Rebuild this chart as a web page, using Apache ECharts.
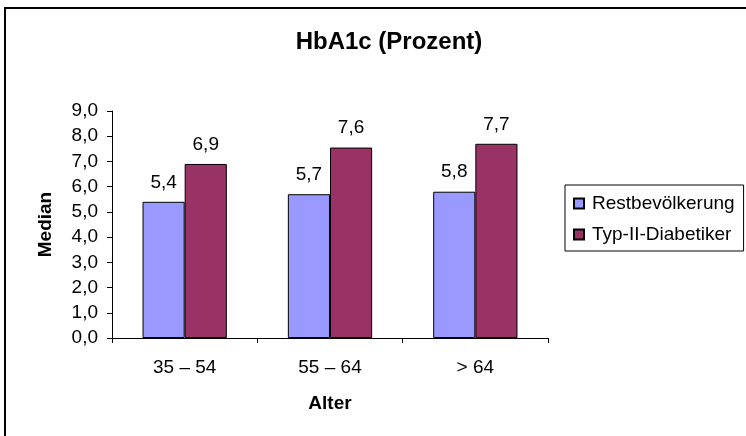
<!DOCTYPE html>
<html>
<head>
<meta charset="utf-8">
<script src="https://cdn.jsdelivr.net/npm/echarts@6/dist/echarts.min.js"></script>
<style>html,body{margin:0;padding:0;background:#fff}#c{width:746px;height:436px}</style>
</head>
<body>
<div id="c"></div>
<script>
var categories = ['35 – 54', '55 – 64', '> 64'];
var restValues = [5.4, 5.7, 5.8];
var diabValues = [6.9, 7.55, 7.7];
var seriesNames = ['Restbevölkerung', 'Typ-II-Diabetiker'];
var yMin = 0, yMax = 9, yStep = 1;

var FONT = 'Liberation Sans, Arial, sans-serif';
function fmt(v) { return (Math.round(v * 10 + 1e-6) / 10).toFixed(1).replace('.', ','); }

var chart = echarts.init(document.getElementById('c'));
var labelCfg = {
  show: true, position: 'top', distance: 10, color: '#000',
  fontFamily: FONT, fontSize: 19,
  formatter: function (p) { return fmt(p.value); }
};
chart.setOption({
  animation: false,
  backgroundColor: '#fff',
  title: {
    text: 'HbA1c (Prozent)', left: 384, top: 25, textAlign: 'center',
    textStyle: { fontFamily: FONT, fontSize: 24, fontWeight: 'bold', color: '#000' }
  },
  graphic: [{
    type: 'rect', shape: { x: 5, y: 8, width: 800, height: 500 },
    style: { fill: 'none', stroke: '#000', lineWidth: 2 }, silent: true
  }],
  legend: {
    orient: 'vertical', left: 565, top: 185,
    padding: [9, 9, 7, 8], itemGap: 12, itemWidth: 10, itemHeight: 10,
    icon: 'rect', borderColor: '#000', borderWidth: 1,
    textStyle: { fontFamily: FONT, fontSize: 19, color: '#000', padding: [0, 0, 0, 3] },
    data: seriesNames
  },
  grid: { left: 112, right: 198, top: 111, bottom: 98 },
  xAxis: {
    type: 'category', data: categories,
    name: 'Alter', nameLocation: 'middle', nameGap: 56,
    nameTextStyle: { fontFamily: FONT, fontSize: 19, fontWeight: 'bold', color: '#000' },
    axisLine: { lineStyle: { color: '#000', width: 1 } },
    axisTick: { show: true, alignWithLabel: false, length: 5, lineStyle: { color: '#000' } },
    axisLabel: { margin: 20, fontFamily: FONT, fontSize: 19, color: '#000' }
  },
  yAxis: {
    type: 'value', min: yMin, max: yMax, interval: yStep,
    name: 'Median', nameLocation: 'middle', nameGap: 57, nameRotate: 90,
    nameTextStyle: { fontFamily: FONT, fontSize: 19, fontWeight: 'bold', color: '#000' },
    axisLine: { show: true, lineStyle: { color: '#000', width: 1 } },
    axisTick: { show: true, length: 5, lineStyle: { color: '#000' } },
    splitLine: { show: false },
    axisLabel: { margin: 14, fontFamily: FONT, fontSize: 19, color: '#000',
      formatter: function (v) { return v.toFixed(1).replace('.', ','); } }
  },
  series: [{
    name: seriesNames[0], type: 'bar', data: restValues,
    barGap: '0%', barCategoryGap: '42%',
    itemStyle: { color: '#9999FF', borderColor: '#000', borderWidth: 1 },
    label: labelCfg
  }, {
    name: seriesNames[1], type: 'bar', data: diabValues,
    barGap: '0%', barCategoryGap: '42%',
    itemStyle: { color: '#993366', borderColor: '#000', borderWidth: 1 },
    label: labelCfg
  }]
});
</script>
</body>
</html>
